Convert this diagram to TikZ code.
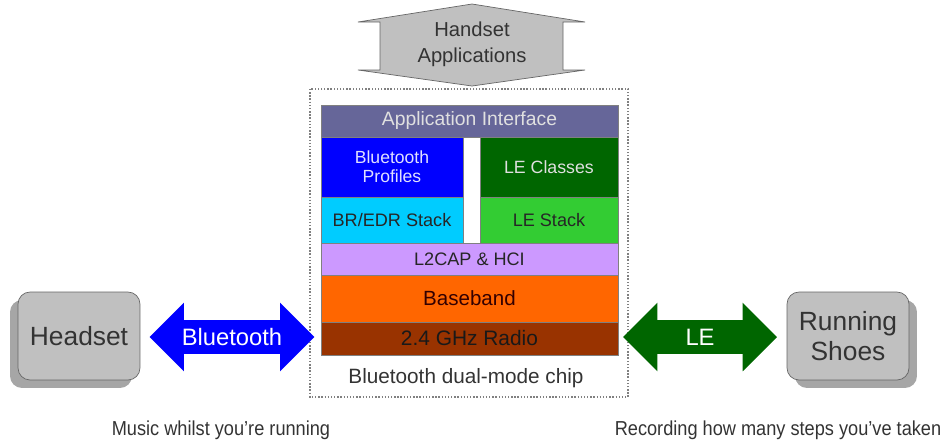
\documentclass[tikz,border=0pt]{standalone}
\usepackage{fontspec}
\setmainfont{Liberation Sans}
\usetikzlibrary{shapes.arrows,shadows}

\definecolor{ifpurple}{RGB}{102,102,153}
\definecolor{profblue}{RGB}{0,0,255}
\definecolor{ledark}{RGB}{0,102,0}
\definecolor{edrcyan}{RGB}{0,204,255}
\definecolor{legreen}{RGB}{51,204,51}
\definecolor{hcililac}{RGB}{204,153,255}
\definecolor{bborange}{RGB}{255,102,0}
\definecolor{radiobrown}{RGB}{153,51,0}
\definecolor{devgray}{RGB}{192,192,192}
\definecolor{shadegray}{RGB}{166,166,166}
\definecolor{textgray}{RGB}{51,51,51}

\tikzset{
  layer/.style={draw=gray, anchor=north west, inner sep=0pt, outer sep=0pt, align=center},
  device/.style={draw=gray!80!black, fill=devgray, rounded corners=0.24cm,
    minimum width=2.44cm, minimum height=1.76cm, align=center, text=textgray,
    font=\fontsize{15}{17}\selectfont},
  link/.style={double arrow, double arrow head extend=0.35cm, text height=10pt,
    text depth=0pt, inner ysep=4.4pt, inner xsep=0pt, text=white,
    font=\fontsize{13.5}{15}\selectfont}
}

\begin{document}
\begin{tikzpicture}[x=0.02cm,y=-0.02cm]
\useasboundingbox (0,0) rectangle (943,443);

\draw [draw=gray!80!black, fill=devgray] (358,22) -- (472,4) -- (585,22) -- (563,22) -- (563,70)
  -- (585,70) -- (472,86) -- (358,70) -- (380,70) -- (380,22) -- cycle;
\node [align=center, text=textgray, font=\fontsize{11.5}{14.8}\selectfont] (apps) at (472,44) {Handset\\Applications};

\draw [gray, densely dotted, thick] (310,89) rectangle (628,397);

\node [layer, fill=ifpurple, text=white!88!black, minimum width=5.94cm, minimum height=0.64cm,
  font=\fontsize{11}{13}\selectfont] (appif) at (321,105) {Application Interface};
\node [layer, fill=profblue, text=white!88!blue, minimum width=2.84cm, minimum height=1.2cm,
  font=\fontsize{10}{11}\selectfont] (profiles) at (321,137) {Bluetooth\\Profiles};
\node [layer, fill=ledark, text=white!88!black, minimum width=2.76cm, minimum height=1.2cm,
  font=\fontsize{10.1}{12}\selectfont] (leclasses) at (480,137) {LE Classes};
\node [layer, fill=edrcyan, text=black!85, minimum width=2.84cm, minimum height=0.92cm,
  font=\fontsize{10.3}{12}\selectfont] (bredr) at (321,197) {BR/EDR Stack};
\node [layer, fill=legreen, text=black!85, minimum width=2.76cm, minimum height=0.92cm,
  font=\fontsize{10.3}{12}\selectfont] (lestack) at (480,197) {LE Stack};
\node [layer, fill=hcililac, text=black!85, minimum width=5.94cm, minimum height=0.64cm,
  font=\fontsize{10.3}{12}\selectfont] (l2cap) at (321,243) {L2CAP \& HCI};
\node [layer, fill=bborange, text=black!80!red, minimum width=5.94cm, minimum height=0.94cm,
  font=\fontsize{11.7}{14}\selectfont] (baseband) at (321,275) {Baseband};
\node [layer, fill=radiobrown, text=black!90, minimum width=5.94cm, minimum height=0.66cm,
  font=\fontsize{11.9}{14}\selectfont] (radio) at (321,322) {2.4 GHz Radio};

\node [text=textgray, font=\fontsize{11.8}{14}\selectfont] (chip) at (466,378) {Bluetooth dual-mode chip};

\node [device, drop shadow={shadow xshift=-0.16cm, shadow yshift=-0.16cm, fill=shadegray, opacity=1}] (headset) at (79,336) {Headset};
\node [device, drop shadow={shadow xshift=0.16cm, shadow yshift=-0.16cm, fill=shadegray, opacity=1}] (shoes) at (848,336) {Running\\Shoes};

\node [link, fill=profblue, minimum height=3.3cm] (btlink) at (232,337) {Bluetooth};
\node [link, fill=ledark, minimum height=3.08cm] (lelink) at (700,337) {LE};

\node [text=textgray, font=\fontsize{11.5}{14}\selectfont] (music) at (221,430) {\scalebox{0.9}[1]{Music whilst you're running}};
\node [text=textgray, font=\fontsize{11.5}{14}\selectfont] (steps) at (778,430) {\scalebox{0.9}[1]{Recording how many steps you've taken}};

\end{tikzpicture}
\end{document}
